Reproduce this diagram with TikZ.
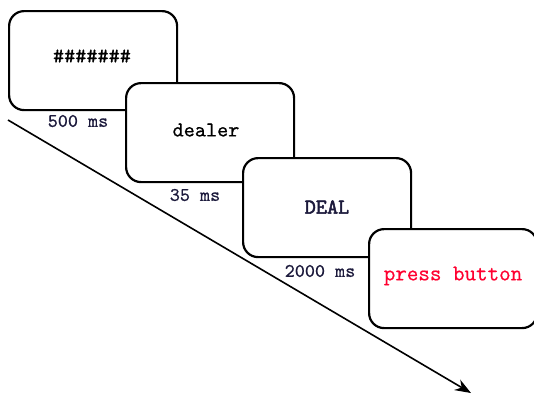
\documentclass[tikz,border=0pt]{standalone}
\usepackage{fontspec}
\usetikzlibrary{arrows.meta}
\newfontfamily\ttmid{Latin Modern Mono}[FakeBold=0.6]
\newfontfamily\ttheavy{Latin Modern Mono}[FakeBold=2.2]
\definecolor{lab}{HTML}{1C1A3C}
\definecolor{pressred}{HTML}{FF0030}
\begin{document}
\begin{tikzpicture}[x=0.5pt,y=-0.5pt,
  screen/.style={draw=black,line width=1.1pt,fill=white,rounded corners=7.5pt,
    minimum width=84pt,minimum height=49.5pt,inner sep=0pt,anchor=north west},
  stim/.style={font=\ttmid\fontsize{10.6}{12}\selectfont,inner sep=0pt},
  durlabel/.style={text=lab,font=\ttmid\fontsize{9.6}{11}\selectfont,inner sep=0pt},
  timeline/.style={line width=0.8pt,-{Stealth[length=8pt,width=6pt]}}]
\useasboundingbox (0,0) rectangle (534,393);
\coordinate (s) at (8,120);
\coordinate (e) at (471,393);
\draw[timeline] (s) -- (e);
\node[screen] (b1) at (8,10) {};
\node[stim] (t1) at (92,56) {\#\#\#\#\#\#\#};
\node[durlabel] (l1) at (78,121) {500 ms};
\node[screen] (b2) at (125,82) {};
\node[stim] (t2) at (206,130) {dealer};
\node[durlabel] (l2) at (195,195) {35 ms};
\node[screen] (b3) at (242,157) {};
\node[stim,text=lab,font=\ttheavy\fontsize{10.6}{12}\selectfont] (t3) at (327,207) {DEAL};
\node[durlabel] (l3) at (320,271) {2000 ms};
\node[screen] (b4) at (368,228) {};
\node[stim,text=pressred,font=\ttmid\fontsize{11.2}{13}\selectfont] (t4) at (453,276) {press button};
\end{tikzpicture}
\end{document}
